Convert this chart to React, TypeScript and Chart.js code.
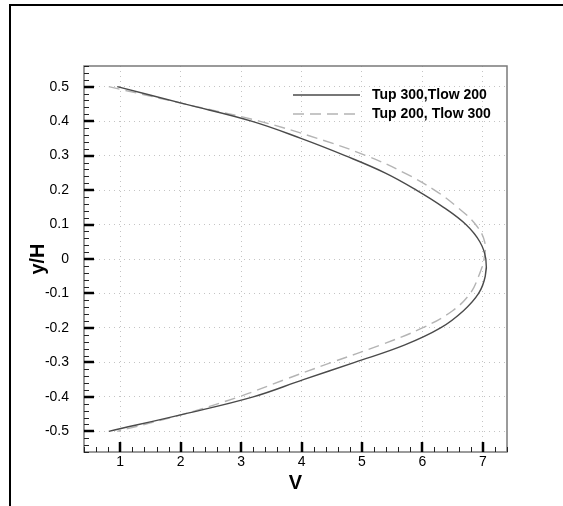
import React, { useEffect, useRef } from "react";
import { Chart, registerables } from "chart.js";

Chart.register(...registerables);

// y/H positions across the channel
const yPositions = [0.5, 0.45, 0.4, 0.35, 0.3, 0.25, 0.2, 0.15, 0.1, 0.05, 0, -0.05, -0.1, -0.15, -0.2, -0.25, -0.3, -0.35, -0.4, -0.45, -0.5];
// V for "Tup 300,Tlow 200"
const vSolid = [0.95, 2.06, 3.17, 3.99, 4.72, 5.38, 5.9, 6.35, 6.72, 6.95, 7.05, 7.04, 6.93, 6.68, 6.3, 5.7, 4.88, 4.03, 3.2, 2.05, 0.81];
// V for "Tup 200, Tlow 300"
const vDashed = [0.81, 2.06, 3.3, 4.26, 5.07, 5.7, 6.2, 6.58, 6.88, 7.03, 7.02, 6.93, 6.79, 6.5, 6.0, 5.3, 4.5, 3.72, 2.96, 2.05, 0.95];

const seriesLabels = ["Tup 300,Tlow 200", "Tup 200, Tlow 300"];

const xTickValues = [1, 2, 3, 4, 5, 6, 7];
const xTickLabels = ["1", "2", "3", "4", "5", "6", "7"];
const yTickValues = [0.5, 0.4, 0.3, 0.2, 0.1, 0, -0.1, -0.2, -0.3, -0.4, -0.5];
const yTickLabels = ["0.5", "0.4", "0.3", "0.2", "0.1", "0", "-0.1", "-0.2", "-0.3", "-0.4", "-0.5"];

const X_MIN = 0.4, X_MAX = 7.4, X_MINOR = 0.2;
const Y_MIN = -0.56, Y_MAX = 0.56, Y_MINOR = 0.02;

const FONT = "'Liberation Sans', Arial, sans-serif";

const decorPlugin = {
  id: "decor",
  beforeDraw(chart: any) {
    const ctx = chart.ctx;
    ctx.save();
    ctx.fillStyle = "#ffffff";
    ctx.fillRect(0, 0, chart.width, chart.height);
    // outer frame (left and top)
    ctx.strokeStyle = "#000000";
    ctx.lineWidth = 2;
    ctx.beginPath();
    ctx.moveTo(10, chart.height);
    ctx.lineTo(10, 5);
    ctx.lineTo(chart.width, 5);
    ctx.stroke();
    ctx.restore();
  },
  afterDraw(chart: any) {
    const ctx = chart.ctx;
    const a = chart.chartArea;
    const xs = chart.scales.x;
    const ys = chart.scales.y;
    ctx.save();
    // plot border
    ctx.strokeStyle = "#7a7a7a";
    ctx.lineWidth = 1.5;
    ctx.strokeRect(a.left, a.top, a.right - a.left, a.bottom - a.top);
    // minor ticks
    ctx.strokeStyle = "#222";
    ctx.lineWidth = 1;
    ctx.beginPath();
    for (let k = Math.ceil(X_MIN / X_MINOR); k * X_MINOR <= X_MAX + 1e-9; k++) {
      const v = k * X_MINOR;
      if (Math.abs(v - Math.round(v)) < 1e-6) continue;
      const px = Math.round(xs.getPixelForValue(v)) + 0.5;
      ctx.moveTo(px, a.bottom);
      ctx.lineTo(px, a.bottom - 5);
    }
    for (let k = Math.ceil(Y_MIN / Y_MINOR - 1e-9); k * Y_MINOR <= Y_MAX + 1e-9; k++) {
      const v = k * Y_MINOR;
      if (Math.abs(v * 10 - Math.round(v * 10)) < 1e-6) continue;
      const py = Math.round(ys.getPixelForValue(v)) + 0.5;
      ctx.moveTo(a.left, py);
      ctx.lineTo(a.left + 5, py);
    }
    ctx.stroke();
    // major ticks
    ctx.strokeStyle = "#000";
    ctx.lineWidth = 2.5;
    ctx.beginPath();
    xTickValues.forEach((v) => {
      const px = Math.round(xs.getPixelForValue(v));
      ctx.moveTo(px, a.bottom);
      ctx.lineTo(px, a.bottom - 10);
    });
    yTickValues.forEach((v) => {
      const py = Math.round(ys.getPixelForValue(v));
      ctx.moveTo(a.left, py);
      ctx.lineTo(a.left + 10, py);
    });
    ctx.stroke();
    // legend
    const lx0 = a.right - 214;
    const lx1 = a.right - 147;
    const tx = a.right - 135;
    const rows = [a.top + 29, a.top + 48];
    chart.data.datasets.forEach((ds: any, i: number) => {
      ctx.strokeStyle = ds.borderColor;
      ctx.lineWidth = ds.borderWidth;
      ctx.setLineDash(ds.borderDash || []);
      ctx.beginPath();
      ctx.moveTo(lx0, rows[i]);
      ctx.lineTo(lx1, rows[i]);
      ctx.stroke();
      ctx.setLineDash([]);
      ctx.fillStyle = "#000";
      ctx.font = `bold 14px ${FONT}`;
      ctx.textBaseline = "middle";
      ctx.textAlign = "left";
      ctx.fillText(ds.label, tx, rows[i]);
    });
    ctx.restore();
  },
};

export default function App() {
  const canvasRef = useRef<HTMLCanvasElement | null>(null);

  useEffect(() => {
    const canvas = canvasRef.current;
    if (!canvas) return;
    const chart = new Chart(canvas, {
      type: "scatter",
      data: {
        datasets: [
          {
            label: seriesLabels[0],
            data: yPositions.map((y, i) => ({ x: vSolid[i], y })),
            showLine: true,
            borderColor: "#4a4a4a",
            borderWidth: 1.4,
            pointRadius: 0,
            tension: 0.4,
            fill: false,
          },
          {
            label: seriesLabels[1],
            data: yPositions.map((y, i) => ({ x: vDashed[i], y })),
            showLine: true,
            borderColor: "#b4b4b4",
            borderWidth: 1.4,
            borderDash: [11, 6],
            pointRadius: 0,
            tension: 0.4,
            fill: false,
          },
        ],
      },
      options: {
        responsive: false,
        animation: false,
        devicePixelRatio: 1,
        layout: { padding: { left: 0, top: 66, right: 56, bottom: 0 } },
        plugins: { legend: { display: false }, tooltip: { enabled: false } },
        scales: {
          x: {
            type: "linear",
            min: X_MIN,
            max: X_MAX,
            afterBuildTicks: (s: any) => {
              s.ticks = xTickValues.map((v) => ({ value: v }));
            },
            afterFit: (s: any) => {
              s.height = 54;
            },
            ticks: {
              padding: 2,
              color: "#000",
              font: { family: FONT, size: 14 },
              maxRotation: 0,
              autoSkip: false,
              callback: (_v: any, i: number) => xTickLabels[i],
            },
            grid: {
              drawTicks: false,
              color: "#c4c4c4",
              lineWidth: 1,
            },
            border: { display: false, dash: [1, 4] },
            title: {
              display: true,
              text: "V",
              color: "#000",
              font: { family: FONT, size: 20, weight: "bold" },
              padding: { top: 0, bottom: 11 },
            },
          },
          y: {
            type: "linear",
            min: Y_MIN,
            max: Y_MAX,
            afterBuildTicks: (s: any) => {
              s.ticks = yTickValues.map((v) => ({ value: v }));
            },
            afterFit: (s: any) => {
              s.width = 84;
            },
            ticks: {
              padding: 15,
              color: "#000",
              font: { family: FONT, size: 14 },
              autoSkip: false,
              callback: (_v: any, i: number) => yTickLabels[i],
            },
            grid: {
              drawTicks: false,
              color: "#c4c4c4",
              lineWidth: 1,
            },
            border: { display: false, dash: [1, 4] },
            title: {
              display: true,
              text: "y/H",
              color: "#000",
              font: { family: FONT, size: 20, weight: "bold" },
              padding: { top: 26, bottom: 0 },
            },
          },
        },
      },
      plugins: [decorPlugin],
    } as any);
    return () => chart.destroy();
  }, []);

  return (
    <div style={{ position: "fixed", left: 0, top: 0, width: 563, height: 506, background: "#fff" }}>
      <canvas ref={canvasRef} width={563} height={506} style={{ display: "block" }} />
    </div>
  );
}
